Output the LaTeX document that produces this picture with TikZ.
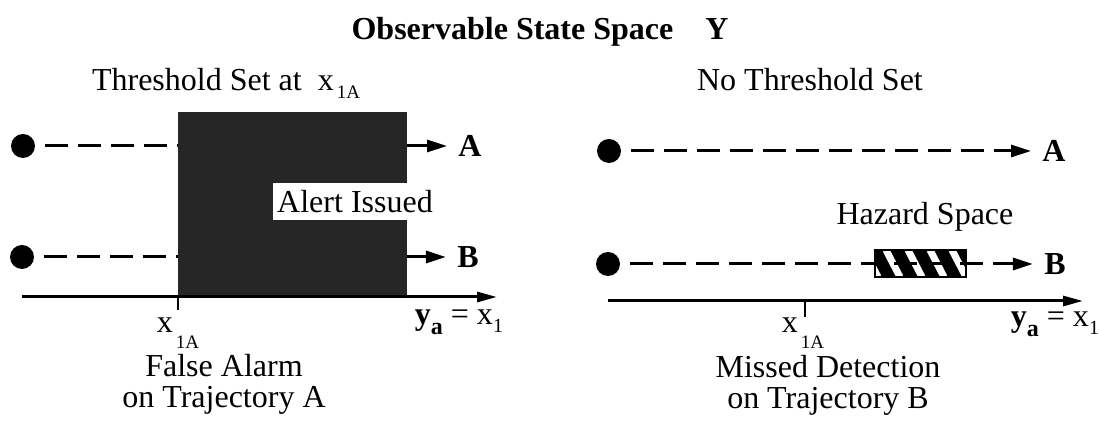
\documentclass[tikz,border=0pt]{standalone}
\usepackage{fontspec}
\setmainfont{Liberation Serif}
\usetikzlibrary{arrows.meta}

\newcommand{\xsub}[1][4pt]{x\hspace{1.5pt}\raisebox{-#1}{\fontsize{9.5}{9.5}\selectfont 1A}}
\newcommand{\yax}{\textbf{y}\raisebox{-5pt}{\textbf{\fontsize{12}{12}\selectfont a}} = x\raisebox{-4pt}{\fontsize{10}{10}\selectfont 1}}

\begin{document}
\begin{tikzpicture}[x=0.5pt, y=-0.5pt,
  trajdot/.style={circle, fill=black, minimum size=12pt, inner sep=0pt},
  traj/.style={line width=1.5pt, dash pattern=on 11.5pt off 5pt, dash phase=11.5pt},
  arr/.style={line width=1.5pt, -{Triangle[length=10pt,width=6pt]}},
  axisline/.style={line width=1.5pt, -{Triangle[length=10pt,width=5pt]}},
  tickmark/.style={line width=1pt},
  txt/.style={font=\fontsize{16}{15.5}\selectfont, align=center},
  lbl/.style={font=\fontsize{16}{19}\selectfont\bfseries, inner xsep=5.5pt},
  alarm/.style={fill=black!85}]
\useasboundingbox (0,0) rectangle (1100,432);
% title
\node[lbl, anchor=base] (title) at (540,40) {Observable State Space\quad Y};
% left panel: threshold set
\node[txt, anchor=base west] (thrset) at (85,91) {Threshold Set at\hspace{0.5em}\xsub};
\node[trajdot] (dA1) at (23,146) {};
\node[trajdot] (dB1) at (22,257) {};
\node[lbl] (lA1) at (470,146) {A};
\node[lbl] (lB1) at (468,257) {B};
\coordinate (thrL) at (178,112);
\coordinate (thrR) at (407,297);
\draw[traj] (dA1) -- (dA1 -| thrL);
\draw[traj] (dB1) -- (dB1 -| thrL);
\fill[alarm] (thrL) rectangle (thrR);
\node[txt, fill=white, minimum height=18.5pt, inner xsep=2pt] (alert) at (355,202) {Alert Issued};
\draw[arr] (dA1 -| thrR) -- (lA1);
\draw[arr] (dB1 -| thrR) -- (lB1);
% left axis
\coordinate (o1) at (22,297);
\coordinate (e1) at (497,297);
\draw[axisline] (o1) -- (e1);
\draw[tickmark] (178,297) -- (178,310);
\node[txt] (x1) at (178,333) {\xsub[8pt]};
\node[txt] (ya1) at (459,322) {\yax};
\node[txt] (cap1) at (224,384) {False Alarm\\on Trajectory A};
% right panel: no threshold
\node[txt, anchor=base] (nothr) at (810,91) {No Threshold Set};
\node[trajdot] (dA2) at (609,151) {};
\node[trajdot] (dB2) at (608,264) {};
\node[lbl] (lA2) at (1054,151) {A};
\node[lbl] (lB2) at (1055,264) {B};
% hazard space
\begin{scope}
  \clip (875,250) rectangle (966,277);
  \fill (875,250) rectangle (966,277);
  \foreach \x in {842,864,...,966}
    \draw[white, line width=3.5pt] (\x,250) -- ++(14,27);
\end{scope}
\draw[line width=1pt] (875,250) rectangle (966,277);
\node[txt] (haz) at (925,217) {Hazard Space};
\draw[traj, arr] (dA2) -- (lA2);
\draw[traj, arr] (dB2) -- (lB2);
% right axis
\coordinate (o2) at (608,301);
\coordinate (e2) at (1083,301);
\draw[axisline] (o2) -- (e2);
\draw[tickmark] (805,301) -- (805,317);
\node[txt] (x2) at (803,333) {\xsub[8pt]};
\node[txt] (ya2) at (1055,324) {\yax};
\node[txt] (cap2) at (828,385) {Missed Detection\\on Trajectory B};
\end{tikzpicture}
\end{document}
